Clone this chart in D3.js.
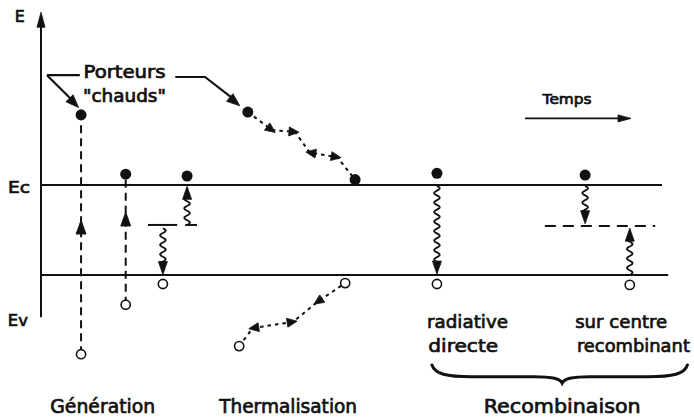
<!DOCTYPE html>
<html><head><meta charset="utf-8">
<script src="https://cdn.jsdelivr.net/npm/d3@7"></script>
<style>
html,body{margin:0;padding:0;background:#fff;}
svg{display:block;}
text{font-family:"DejaVu Sans",sans-serif;fill:#111;stroke:#111;stroke-width:0.7;}
</style>
</head><body>
<svg id="c" width="694" height="417"></svg>
<script>
// ---------- DATA (time: arbitrary units 0..100, energy: Ev = 0, Ec = 1) ----------
const levelNames    = ["Ec", "Ev"];
const levelEnergies = [1, 0];
const levelEndTimes = [100, 101];

// direct generation (dashed vertical transitions)
const genTimes   = [6.3, 13.5];
const genTopE    = [1.78, 1.12];
const genBottomE = [-0.88, -0.33];
const genArrowE  = [0.61, 0.70];

// trap levels
const trapT0     = [17.1, 23.1, 81.1];
const trapT1     = [21.8, 25.0, 98.9];
const trapE      = [0.556, 0.556, 0.544];
const trapDashed = [false, false, true];

// wavy transitions: time, start energy, end energy (arrow at the end)
const waveTimes = [23.4, 19.5, 63.7, 87.6, 94.8];
const waveFromE = [0.556, 0.52, 0.99, 0.99, 0.00];
const waveToE   = [0.985, 0.005, 0.01, 0.57, 0.52];

// electrons (filled) and holes (open)
const electronT = [6.3, 13.5, 23.4, 33.2, 50.5, 63.7, 87.6];
const electronE = [1.78, 1.12, 1.10, 1.81, 1.06, 1.13, 1.11];
const holeT     = [6.3, 13.5, 19.5, 31.8, 48.9, 63.7, 94.8];
const holeE     = [-0.88, -0.33, -0.10, -0.79, -0.09, -0.10, -0.11];

// thermalisation paths (dotted with arrowheads [from, to] point indices)
const thermElecT = [33.2, 37.1, 40.8, 43.2, 47.6, 50.5];
const thermElecE = [1.81, 1.61, 1.59, 1.36, 1.31, 1.06];
const thermElecArrows = [[0,1],[1,2],[4,3],[3,4]];
const thermHoleT = [31.8, 34.0, 40.5, 44.4, 48.9];
const thermHoleE = [-0.79, -0.59, -0.52, -0.30, -0.09];
const thermHoleArrows = [[2,1],[1,2],[4,3]];

// labels
const axisLabel   = "E";
const hotLabel    = ["Porteurs", "\"chauds\""];
const timeLabel   = "Temps";
const phaseLabels = ["Génération", "Thermalisation", "Recombinaison"];
const recLabels   = [["radiative", "directe"], ["sur centre", "recombinant"]];

// ---------- SCALES ----------
const x = d3.scaleLinear().domain([0, 100]).range([42, 662]);
const y = d3.scaleLinear().domain([0, 1]).range([275, 185]);
const ink = "#111";
const svg = d3.select("#c");

function arrowHead(g, tx, ty, ang, len, hw) {
  const bx = tx - len * Math.cos(ang), by = ty - len * Math.sin(ang);
  const px = -Math.sin(ang) * hw, py = Math.cos(ang) * hw;
  g.append("path").attr("d", `M${tx},${ty}L${bx + px},${by + py}L${bx - px},${by - py}Z`)
    .attr("fill", ink).attr("stroke", ink).attr("stroke-width", 0.8).attr("stroke-linejoin", "round");
}
function label(txt, px, py, size, width, anchor) {
  const t = svg.append("text").attr("x", px).attr("y", py).attr("font-size", size)
    .attr("text-anchor", anchor || "middle").text(txt);
  if (width) t.attr("textLength", width).attr("lengthAdjust", "spacingAndGlyphs");
  return t;
}

// ---------- AXIS ----------
const axisG = svg.append("g");
axisG.append("line").attr("x1", x(-0.16)).attr("x2", x(-0.16)).attr("y1", y(-0.47)).attr("y2", y(2.82))
  .attr("stroke", ink).attr("stroke-width", 2);
arrowHead(axisG, x(-0.16), y(2.92), -Math.PI / 2, 15, 4);
label(axisLabel, x(-3.6), y(2.81), 16, 10);
label(levelNames[0], x(-3.7), y(0.91), 15, 22);
label(levelNames[1], x(-3.9), y(-0.57), 15, 20);

// ---------- BAND LEVELS ----------
levelEnergies.forEach((E, i) => {
  svg.append("line").attr("x1", x(0)).attr("x2", x(levelEndTimes[i]))
    .attr("y1", y(E)).attr("y2", y(E)).attr("stroke", ink).attr("stroke-width", 2.2);
});

// ---------- TRAP LEVELS ----------
trapE.forEach((E, i) => {
  svg.append("line").attr("x1", x(trapT0[i])).attr("x2", x(trapT1[i]))
    .attr("y1", y(E)).attr("y2", y(E)).attr("stroke", ink).attr("stroke-width", 2)
    .attr("stroke-dasharray", trapDashed[i] ? "11,7" : null);
});

// ---------- GENERATION (dashed) ----------
genTimes.forEach((t, i) => {
  svg.append("line").attr("x1", x(t)).attr("x2", x(t)).attr("y1", y(genBottomE[i])).attr("y2", y(genTopE[i]))
    .attr("stroke", ink).attr("stroke-width", 2).attr("stroke-dasharray", "8,5");
  arrowHead(svg, x(t), y(genArrowE[i]), -Math.PI / 2, 14, 5);
});

// ---------- WAVY TRANSITIONS ----------
waveTimes.forEach((t, i) => {
  const X = x(t), Y0 = y(waveFromE[i]), Y1 = y(waveToE[i]);
  const dir = Math.sign(Y1 - Y0);
  const L = Math.abs(Y1 - Y0) - 9;
  const pts = d3.range(0, L + 0.01, 0.5).map(s => [X + 2.8 * Math.sin(2 * Math.PI * s / 9.5), Y0 + dir * s]);
  svg.append("path").attr("d", d3.line()(pts)).attr("fill", "none").attr("stroke", ink).attr("stroke-width", 1.8);
  arrowHead(svg, X, Y1, dir > 0 ? Math.PI / 2 : -Math.PI / 2, 13, 4.5);
});

// ---------- THERMALISATION PATHS ----------
function thermPath(T, E, arrows) {
  const pts = T.map((t, i) => [x(t), y(E[i])]);
  svg.append("path").attr("d", d3.line()(pts)).attr("fill", "none").attr("stroke", ink)
    .attr("stroke-width", 2).attr("stroke-dasharray", "3.5,4");
  arrows.forEach(([a, b]) => {
    const ang = Math.atan2(pts[b][1] - pts[a][1], pts[b][0] - pts[a][0]);
    arrowHead(svg, pts[b][0] + 4 * Math.cos(ang), pts[b][1] + 4 * Math.sin(ang), ang, 10, 4.5);
  });
}
thermPath(thermElecT, thermElecE, thermElecArrows);
thermPath(thermHoleT, thermHoleE, thermHoleArrows);

// ---------- CARRIERS ----------
electronT.forEach((t, i) => {
  svg.append("circle").attr("cx", x(t)).attr("cy", y(electronE[i])).attr("r", 5.5).attr("fill", ink);
});
holeT.forEach((t, i) => {
  svg.append("circle").attr("cx", x(t)).attr("cy", y(holeE[i])).attr("r", 4.6)
    .attr("fill", "#fff").attr("stroke", ink).attr("stroke-width", 1.6);
});

// ---------- "Porteurs chauds" leaders ----------
const lead = svg.append("g").attr("stroke", ink).attr("stroke-width", 2.2).attr("fill", "none");
lead.append("path").attr("d", d3.line()([[x(0.8), y(2.22)], [x(6.1), y(2.22)]]));
lead.append("path").attr("d", d3.line()([[x(0.8), y(2.22)], [x(5.2), y(1.92)]]));
arrowHead(svg, x(5.9), y(1.86), Math.atan2(y(1.86) - y(2.22), x(5.9) - x(0.8)), 13, 5);
lead.append("path").attr("d", d3.line()([[x(21.5), y(2.2)], [x(26.3), y(2.2)], [x(30.8), y(1.96)]]));
arrowHead(svg, x(31.9), y(1.88), Math.atan2(y(1.88) - y(2.2), x(31.9) - x(26.3)), 13, 5);
label(hotLabel[0], x(13.3), y(2.19), 17, 82);
label(hotLabel[1], x(13.3), y(1.92), 17, 83);

// ---------- Temps arrow ----------
svg.append("line").attr("x1", x(77.9)).attr("x2", x(93)).attr("y1", y(1.74)).attr("y2", y(1.74))
  .attr("stroke", ink).attr("stroke-width", 1.8);
arrowHead(svg, x(95), y(1.74), 0, 13, 3.5);
label(timeLabel, x(84.7), y(1.90), 14, 49);

// ---------- Recombination sub-labels ----------
label(recLabels[0][0], x(62.1), y(-0.59), 18, 81, "start");
label(recLabels[0][1], x(62.3), y(-0.86), 18, 70, "start");
label(recLabels[1][0], x(86.0), y(-0.59), 18, 92, "start");
label(recLabels[1][1], x(104.5), y(-0.86), 18, 113, "end");

// ---------- Brace ----------
{
  const x0 = x(62.9), x1 = x(104.1), xm = x(83.9), yt = y(-1.0), ytip = y(-1.2), ym = y(-1.13);
  const d = `M${x0},${yt} C${x0 + 3},${yt + 9} ${x0 + 14},${ym} ${x0 + 40},${ym} ` +
            `L${xm - 28},${ym} C${xm - 9},${ym} ${xm - 2},${ym + 2} ${xm},${ytip} ` +
            `C${xm + 2},${ym + 2} ${xm + 9},${ym} ${xm + 28},${ym} ` +
            `L${x1 - 40},${ym} C${x1 - 14},${ym} ${x1 - 3},${yt + 9} ${x1},${yt}`;
  svg.append("path").attr("d", d).attr("fill", "none").attr("stroke", ink).attr("stroke-width", 3)
    .attr("stroke-linecap", "round");
}

// ---------- Phase labels ----------
label(phaseLabels[0], x(9.8), y(-1.53), 19, 105);
label(phaseLabels[1], x(39.7), y(-1.53), 19, 138);
label(phaseLabels[2], x(83.9), y(-1.53), 19, 157);
</script>
</body></html>
